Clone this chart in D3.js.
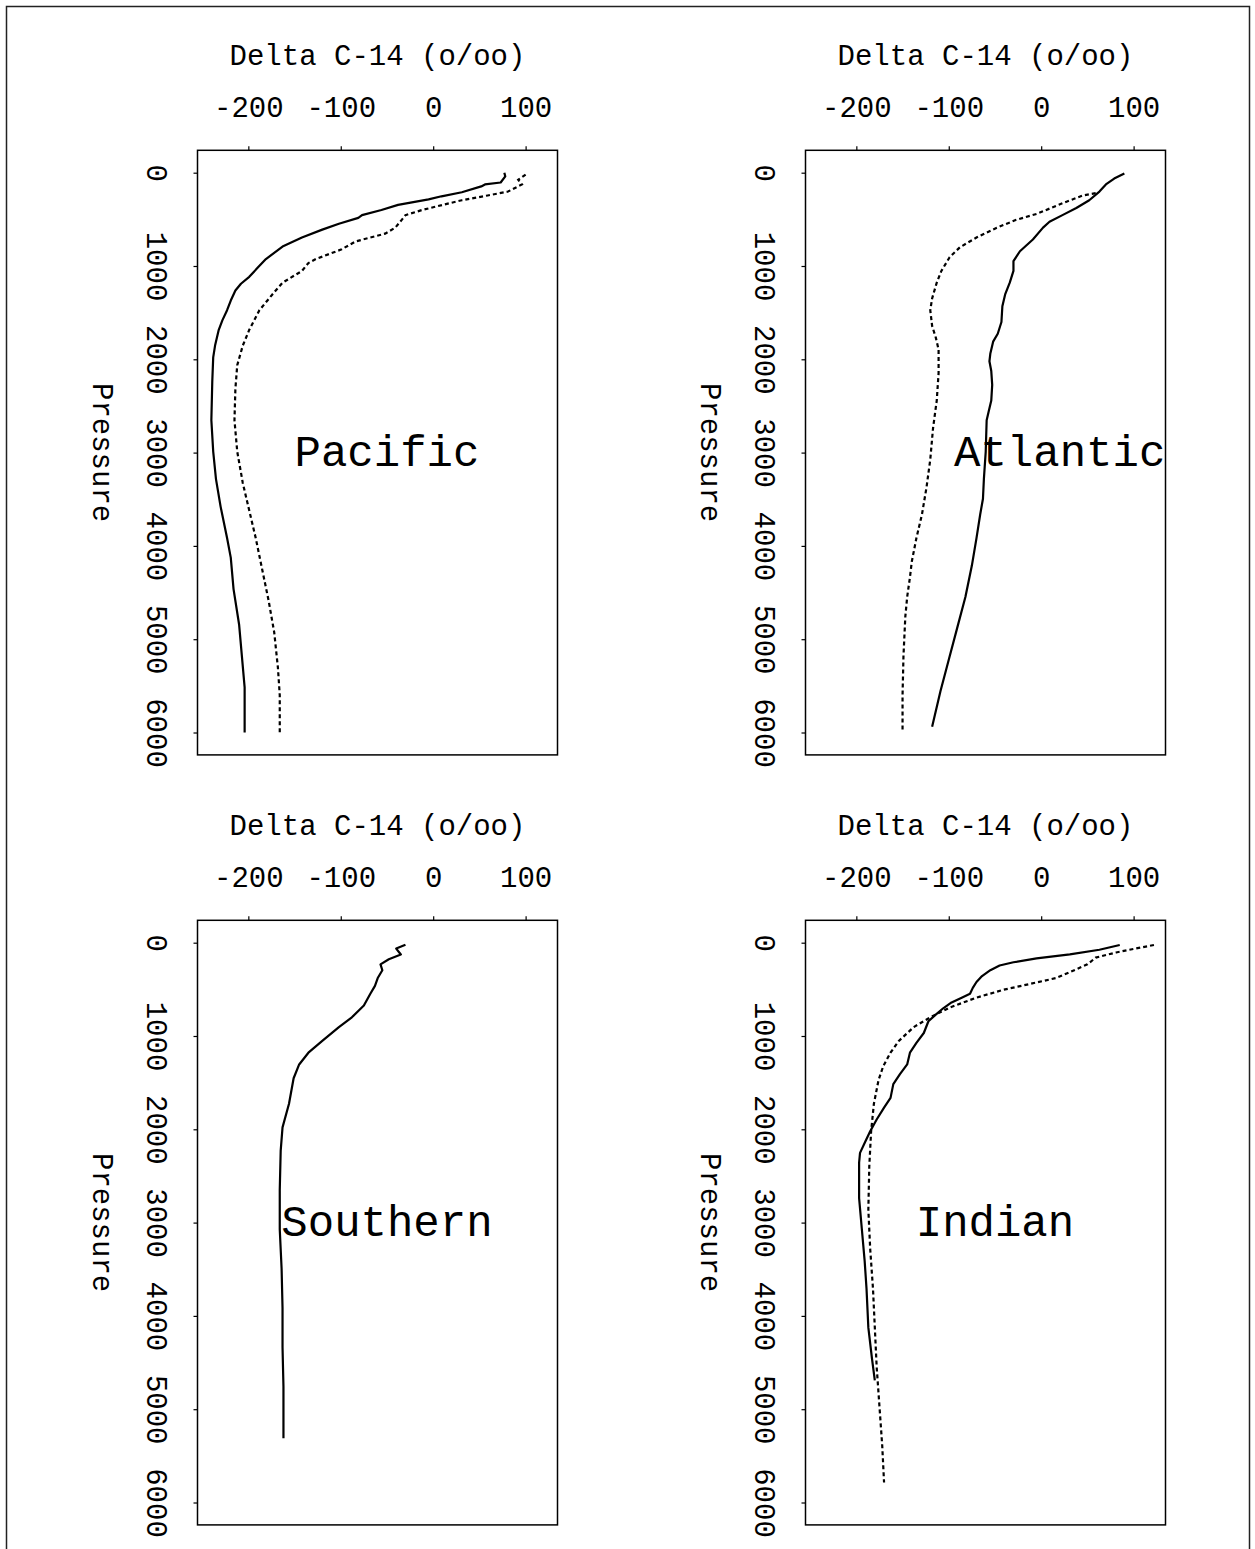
<!DOCTYPE html>
<html>
<head>
<meta charset="utf-8">
<script src="https://cdn.jsdelivr.net/npm/d3@7"></script>
<style>
  body { margin: 0; background: #fff; }
  svg text { font-family: 'Courier New', 'Nimbus Mono PS', 'FreeMono', Courier, 'Liberation Mono', monospace; fill: #000; }
</style>
</head>
<body>
<div id="chart"></div>
<script>
// data: [delta C-14 (o/oo), pressure]
let oceans = ['Pacific', 'Atlantic', 'Southern', 'Indian']
let labelX = [-50, 20, -50, -50]
let labelP = [3000, 3000, 3000, 3000]
let xTicks = [-200, -100, 0, 100]
let yTicks = [0, 1000, 2000, 3000, 4000, 5000, 6000]

let pacificSolid = [
  [77, 0], [78, 40], [73, 105], [56, 126], [52, 147], [31, 210], [9, 253], [-5, 286],
  [-38, 345], [-56, 400], [-77, 455], [-81, 484], [-102, 547], [-120, 610], [-142, 695],
  [-163, 792], [-181, 926], [-190, 1020], [-199, 1116], [-208, 1190], [-214, 1263],
  [-219, 1370], [-223, 1474], [-228, 1580], [-232, 1684], [-236, 1853], [-238, 1979],
  [-239, 2232], [-240, 2653], [-238, 2989], [-235, 3284], [-230, 3579], [-223, 3916],
  [-219, 4126], [-216, 4463], [-210, 4842], [-207, 5179], [-204, 5516], [-204, 6000]
]
let pacificDotted = [
  [100, 21], [92, 76], [96, 126], [81, 202], [59, 244], [31, 295], [5, 358], [-12, 400],
  [-30, 455], [-34, 505], [-41, 589], [-52, 653], [-84, 737], [-99, 821], [-127, 926],
  [-135, 968], [-142, 1053], [-163, 1179], [-174, 1305], [-188, 1474], [-199, 1684],
  [-206, 1853], [-212, 2063], [-214, 2316], [-215, 2653], [-212, 2989], [-206, 3326],
  [-199, 3621], [-192, 3916], [-185, 4253], [-178, 4589], [-172, 4926], [-168, 5305],
  [-166, 5600], [-166, 6000]
]
let atlanticSolid = [
  [90, 8], [79, 63], [70, 126], [63, 202], [52, 295], [38, 379], [23, 455], [9, 526],
  [2, 589], [-9, 716], [-23, 842], [-30, 947], [-30, 1053], [-34, 1179], [-39, 1305],
  [-42, 1432], [-43, 1600], [-47, 1726], [-52, 1811], [-55, 1937], [-56, 2021],
  [-54, 2126], [-53, 2274], [-54, 2442], [-57, 2568], [-59, 2653], [-60, 2989],
  [-62, 3284], [-63, 3495], [-66, 3663], [-70, 3916], [-75, 4211], [-82, 4547],
  [-91, 4884], [-100, 5221], [-109, 5558], [-118, 5937]
]
let atlanticDotted = [
  [59, 219], [45, 244], [23, 328], [-5, 442], [-27, 505], [-48, 589], [-70, 695],
  [-88, 800], [-99, 905], [-108, 1053], [-113, 1179], [-118, 1347], [-120, 1474],
  [-118, 1642], [-114, 1768], [-111, 1895], [-111, 2147], [-113, 2442], [-117, 2737],
  [-120, 3074], [-124, 3368], [-129, 3663], [-135, 3916], [-140, 4168], [-142, 4337],
  [-145, 4547], [-147, 4758], [-149, 5179], [-150, 5600], [-150, 6000]
]
let southernSolid = [
  [-30, 21], [-40, 63], [-35, 126], [-48, 177], [-57, 232], [-55, 295], [-60, 379],
  [-63, 463], [-68, 547], [-75, 674], [-88, 800], [-102, 905], [-120, 1053],
  [-135, 1179], [-145, 1305], [-151, 1453], [-156, 1726], [-163, 1979], [-165, 2232],
  [-166, 2653], [-166, 3074], [-164, 3495], [-163, 3916], [-163, 4337], [-162, 4758],
  [-162, 5310]
]
let indianSolid = [
  [85, 25], [63, 76], [31, 126], [-5, 168], [-30, 210], [-45, 244], [-55, 295],
  [-64, 358], [-70, 421], [-74, 484], [-77, 547], [-86, 589], [-97, 640], [-106, 703],
  [-115, 779], [-122, 842], [-127, 968], [-135, 1074], [-142, 1179], [-145, 1305],
  [-153, 1411], [-160, 1516], [-163, 1663], [-170, 1768], [-178, 1895], [-185, 2021],
  [-190, 2126], [-196, 2253], [-197, 2358], [-197, 2737], [-194, 3074], [-191, 3410],
  [-189, 3705], [-187, 4126], [-183, 4463], [-180, 4690]
]
let indianDotted = [
  [122, 25], [102, 63], [81, 105], [59, 160], [50, 232], [31, 316], [16, 379],
  [-12, 442], [-41, 505], [-70, 589], [-99, 695], [-120, 800], [-138, 905],
  [-154, 1053], [-163, 1179], [-171, 1326], [-176, 1474], [-181, 1726], [-184, 2021],
  [-186, 2400], [-187, 2863], [-185, 3284], [-182, 3705], [-180, 4126], [-178, 4547],
  [-175, 4968], [-172, 5389], [-170, 5785]
]

let solidSeries = [pacificSolid, atlanticSolid, southernSolid, indianSolid]
let dottedSeries = [pacificDotted, atlanticDotted, null, indianDotted]

let width = 1255, height = 1549
let boxW = 360, boxH = 604.6
let left0 = 197.5, top0 = 150.3, dx = 608, dy = 770

let svg = d3.select('#chart')
  .append('svg')
  .attr('width', width)
  .attr('height', height)

svg.append('rect')
  .attr('x', 6.5).attr('y', 6.5)
  .attr('width', 1243).attr('height', 1560)
  .attr('fill', 'none')
  .attr('stroke', '#222')
  .attr('stroke-width', 1.5)

let x = d3.scaleLinear().domain([-255, 134.5]).range([0, boxW])
let y = d3.scaleLinear().domain([-240, 6240]).range([0, boxH])

let line = d3.line()
  .x(function(d) { return x(d[0]) })
  .y(function(d) { return y(d[1]) })

oceans.forEach(function(name, i) {
  let col = i % 2, row = Math.floor(i / 2)
  let g = svg.append('g')
    .attr('transform', 'translate(' + (left0 + col * dx) + ',' + (top0 + row * dy) + ')')

  // top axis
  let xa = g.append('g')
    .call(d3.axisTop(x).tickValues(xTicks).tickSize(4).tickSizeOuter(0).tickPadding(29))
  xa.select('.domain').remove()
  xa.selectAll('line').attr('stroke', '#000').attr('stroke-width', 1.2)
  xa.selectAll('text').style('font-size', '29px').attr('fill', '#000')
    .text(function(d) { return d })

  // left axis, labels turned
  let ya = g.append('g')
    .call(d3.axisLeft(y).tickValues(yTicks).tickSize(4).tickSizeOuter(0))
  ya.select('.domain').remove()
  ya.selectAll('line').attr('stroke', '#000').attr('stroke-width', 1.2)
  ya.selectAll('text')
    .attr('x', null).attr('dy', null)
    .attr('text-anchor', 'middle')
    .attr('transform', 'translate(-50.5,0) rotate(90)')
    .style('font-size', '29px').attr('fill', '#000')
    .text(function(d) { return d })

  g.append('text')
    .attr('x', boxW / 2).attr('y', -85)
    .attr('text-anchor', 'middle')
    .style('font-size', '29px')
    .text('Delta C-14 (o/oo)')

  g.append('text')
    .attr('text-anchor', 'middle')
    .attr('transform', 'translate(-104.5,' + boxH / 2 + ') rotate(90)')
    .style('font-size', '29px')
    .text('Pressure')

  g.append('rect')
    .attr('width', boxW).attr('height', boxH)
    .attr('fill', 'none')
    .attr('stroke', '#000')
    .attr('stroke-width', 1.5)

  g.append('path')
    .datum(solidSeries[i])
    .attr('d', line)
    .attr('fill', 'none')
    .attr('stroke', '#000')
    .attr('stroke-width', 2.2)
    .attr('stroke-linejoin', 'round')

  if (dottedSeries[i]) {
    g.append('path')
      .datum(dottedSeries[i])
      .attr('d', line)
      .attr('fill', 'none')
      .attr('stroke', '#000')
      .attr('stroke-width', 2.2)
      .attr('stroke-dasharray', '4,3')
  }

  g.append('text')
    .attr('x', x(labelX[i])).attr('y', y(labelP[i]))
    .attr('dy', '0.3em')
    .attr('text-anchor', 'middle')
    .style('font-size', '44px')
    .text(name)
})
</script>
</body>
</html>
